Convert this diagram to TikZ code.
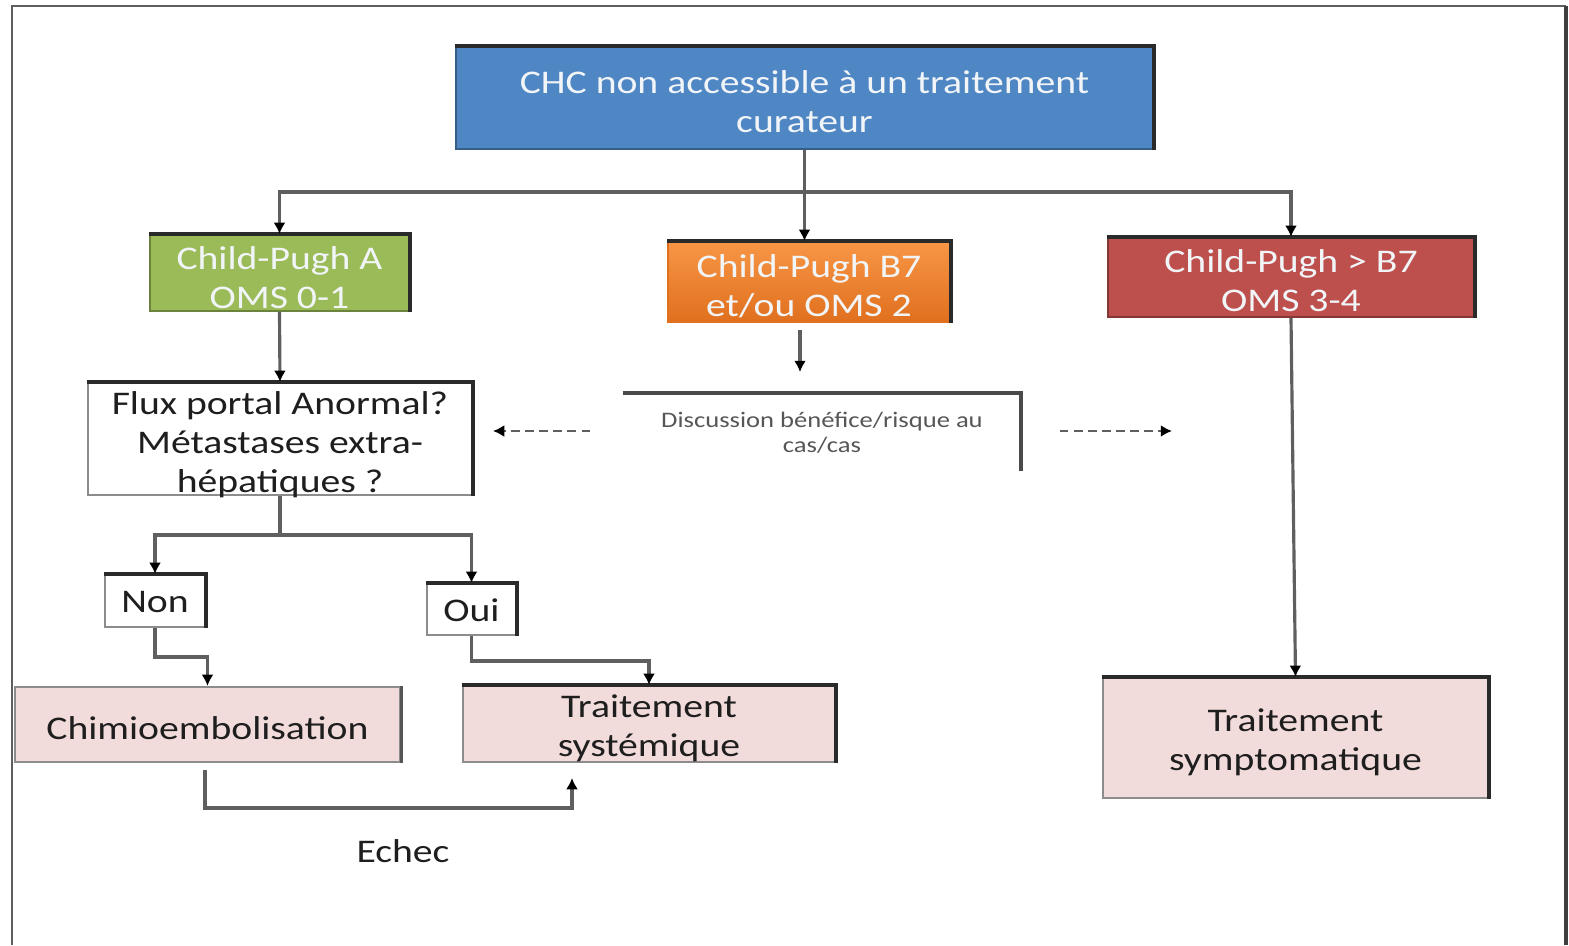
\documentclass[tikz,border=0pt]{standalone}
\usepackage{fontspec}
\setmainfont[FakeStretch=1.2]{Carlito}
\usetikzlibrary{arrows.meta}
\definecolor{hdrblue}{HTML}{4F86C4}
\definecolor{cpgreen}{HTML}{9BBB59}
\definecolor{cporange}{HTML}{F79646}
\definecolor{cporangedk}{HTML}{E0701E}
\definecolor{cpred}{HTML}{BD504D}
\definecolor{softpink}{HTML}{F2DCDB}
\definecolor{lightText}{HTML}{F2F5F8}
\definecolor{darkText}{HTML}{1E1E1E}
\definecolor{linegray}{HTML}{5F5F5F}
\definecolor{edgegray}{HTML}{8C8C8C}
\definecolor{edgedark}{HTML}{2A2A2A}
\newcommand\bodyfont{\fontsize{9.4}{11.1}\selectfont}
\newcommand\smallfont{\fontsize{6.3}{7.1}\selectfont}
\newcommand\darkedges[1]{\draw[topedge] (#1.north west) -- (#1.north east) -- (#1.south east);}
\tikzset{
  % puts the last baseline of the text this far below the box centre
  vpos/.style={text height={2*#1}, text depth=0pt},
  box/.style={rectangle, inner sep=0pt, align=center, font=\bodyfont,
    draw=edgegray, line width=0.6pt, text=darkText},
  colbox/.style={box, fill=#1, draw=#1!70!black, text=lightText},
  pinkbox/.style={box, fill=softpink},
  topedge/.style={draw=edgedark, line width=1.1pt},
  arr/.style={draw=linegray, line width=0.9pt,
    -{Latex[length=3.2pt,width=3.4pt,color=black]}},
  dasharr/.style={draw=linegray, line width=0.6pt, dash pattern=on 2.4pt off 1.6pt,
    -{Latex[length=3.2pt,width=3.4pt,color=black]}},
  plain/.style={draw=linegray, line width=0.9pt}
}
\begin{document}
\begin{tikzpicture}[x=0.01cm, y=-0.01cm]
\useasboundingbox (0,0) rectangle (1569,945);

% outer frame, open at the bottom
\draw[draw=linegray, line width=0.8pt] (12,945) -- (12,6) -- (1566,6);
\draw[draw=edgedark!90, line width=1pt] (1566,6) -- (1566,945);

% boxes
\node[colbox=hdrblue, vpos=9.7pt, minimum width=6.97cm, minimum height=1.02cm] (top) at (804.5,98)
  {CHC non accessible à un traitement\\curateur};
\node[colbox=cpgreen, vpos=10pt, minimum width=2.59cm, minimum height=0.76cm] (cpa) at (279.5,273)
  {Child-Pugh A\\OMS 0-1};
\node[box, vpos=9.9pt, top color=cporange, bottom color=cporangedk, draw=cporangedk, text=lightText,
  minimum width=2.82cm, minimum height=0.80cm] (cpb) at (809,282)
  {Child-Pugh B7\\et/ou OMS 2};
\node[colbox=cpred, vpos=9.6pt, minimum width=3.66cm, minimum height=0.79cm] (cpc) at (1291,277.5)
  {Child-Pugh > B7\\OMS 3-4};
\node[box, vpos=15.2pt, fill=white, minimum width=3.84cm, minimum height=1.12cm] (flux) at (280,439)
  {Flux portal Anormal?\\Métastases extra-\\hépatiques ?};
\node[rectangle, inner sep=0pt, align=center, font=\smallfont, text=darkText!75,
  minimum width=3.96cm, minimum height=0.75cm] (disc) at (822,432.5)
  {Discussion bénéfice/risque au\\cas/cas};
\node[box, vpos=3.4pt, fill=white, minimum width=1.00cm, minimum height=0.52cm] (non) at (155,601) {Non};
\node[box, vpos=3.4pt, fill=white, minimum width=0.89cm, minimum height=0.51cm] (oui) at (471.5,609.5) {Oui};
\node[pinkbox, vpos=4.3pt, minimum width=3.85cm, minimum height=0.75cm] (chimio) at (207.5,724.5)
  {Chimioembolisation};
\node[pinkbox, vpos=9.3pt, minimum width=3.72cm, minimum height=0.76cm] (syst) at (649,724)
  {Traitement\\systémique};
\node[pinkbox, vpos=9.3pt, minimum width=3.85cm, minimum height=1.20cm] (sympt) at (1295.5,738)
  {Traitement\\symptomatique};
\node[font=\bodyfont, text=darkText, inner sep=0pt] (echec) at (403,851) {Echec};

% darker top and right edges
\foreach \n in {top,cpa,cpb,cpc,flux,non,oui,syst,sympt} {\darkedges{\n}}
\draw[draw=edgedark!80, line width=0.9pt] (chimio.north east) -- (chimio.south east);

% open bracket around the discussion text
\draw[draw=edgedark!85, line width=1.1pt] (822,393) coordinate (dtop)
  (disc.north west |- dtop) -- (disc.north east |- dtop) -- (disc.south east);

% connectors from the header
\coordinate (j1) at (804.5,192);
\draw[plain] (top.south) -- (j1);
\draw[arr] (j1) -| (cpa.north);
\draw[arr] (j1) -| (cpc.north);
\draw[arr] (j1) -- (j1 |- cpb.north);

% left branch
\draw[arr] (cpa.south) -- (flux.north);
\coordinate (j2) at (280,535);
\draw[plain] (flux.south) -- (j2);
\draw[arr] (j2) -| (non.north);
\draw[arr] (j2) -| (oui.north);
\coordinate (n1) at (155,657);
\draw[arr] (non.south) -- (n1) -| (chimio.north);
\coordinate (o1) at (471.5,661);
\draw[arr] (oui.south) -- (o1) -| (syst.north);

% failure loop
\coordinate (e1) at (205,770);
\coordinate (eb) at (205,808);
\coordinate (e2) at (572,778);
\draw[arr] (e1) -- (eb) -| (e2);

% middle branch
\coordinate (b1) at (800,330);
\coordinate (b2) at (800,372);
\draw[arr] (b1) -- (b2);
\coordinate (dl1) at (590,431);
\coordinate (dl2) at (493,431);
\draw[dasharr] (dl1) -- (dl2);
\coordinate (dr1) at (1060,431);
\coordinate (dr2) at (1172,431);
\draw[dasharr] (dr1) -- (dr2);

% right branch
\draw[arr] (cpc.south) -- (sympt.north);
\end{tikzpicture}
\end{document}
